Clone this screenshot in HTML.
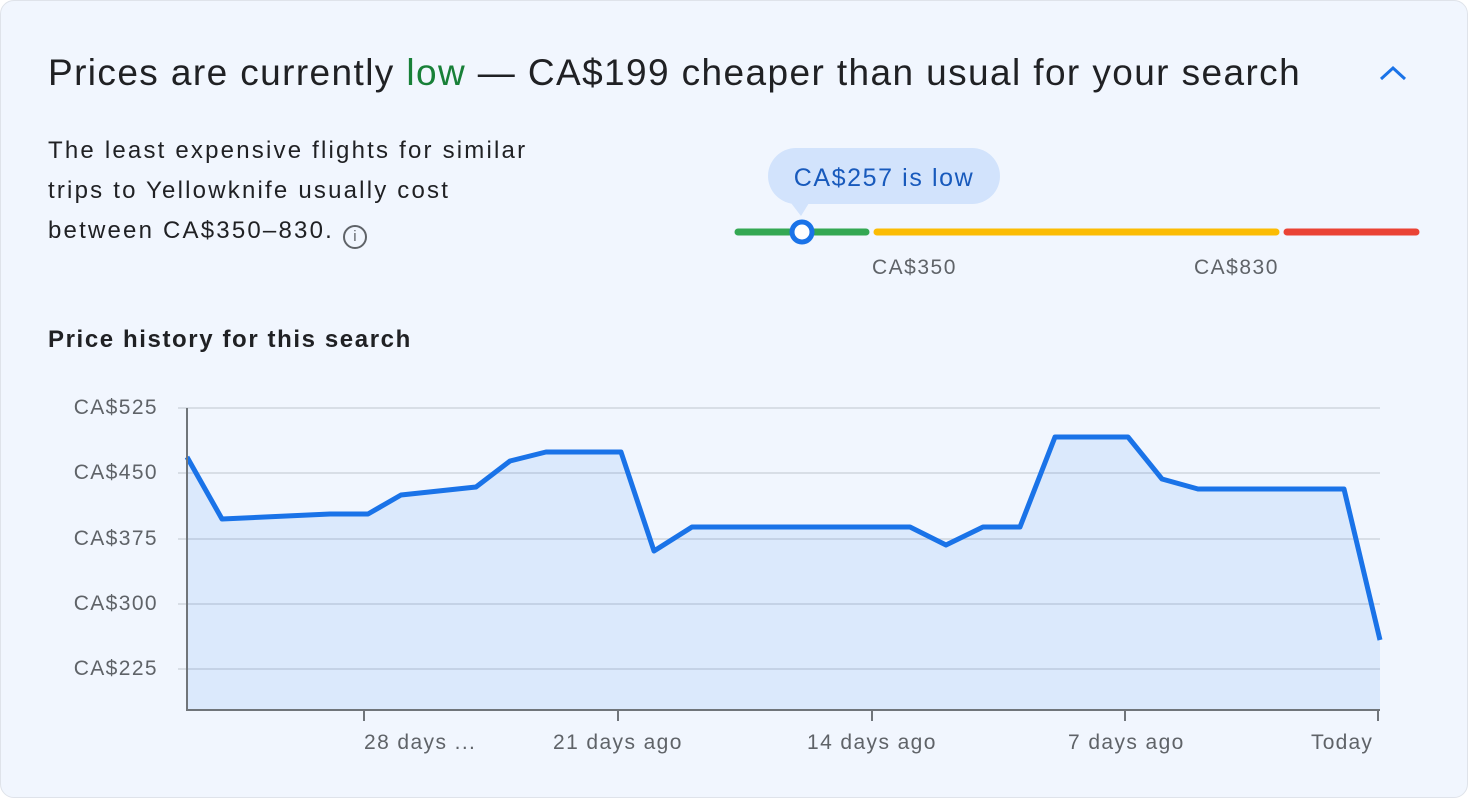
<!DOCTYPE html>
<html><head><style>
body{margin:0;width:1468px;height:798px;background:#fff;font-family:"Liberation Sans",Arial,sans-serif;overflow:hidden}
.card{position:absolute;left:0;top:0;width:1466px;height:796px;border:1px solid #dfe3ea;border-radius:14px;background:#f1f6fe}
.t{position:absolute;white-space:nowrap}
</style></head><body>
<div class="card"></div>
<div class="t" style="left:48px;top:52px;font-size:37px;letter-spacing:1.4px;color:#202124">Prices are currently <span style="color:#188038">low</span> — CA$199 cheaper than usual for your search</div>
<svg style="position:absolute;left:1378px;top:64px" width="30" height="20"><path d="M3 15 L15 4 L27 15" stroke="#1a73e8" stroke-width="3" fill="none"/></svg>
<div class="t" style="left:48px;top:131px;font-size:24px;letter-spacing:2.2px;line-height:40px;color:#202124">The least expensive flights for similar<br>trips to Yellowknife usually cost<br>between CA$350–830. <span style="display:inline-block;border:2px solid #5f6368;border-radius:50%;font-size:15px;line-height:20px;text-align:center;vertical-align:-3px;color:#5f6368;box-sizing:border-box;width:24px;height:24px;letter-spacing:0">i</span></div>
<div class="t" style="left:768px;top:148px;width:232px;height:56px;border-radius:28px;background:#d2e3fc;color:#185abc;font-size:25px;letter-spacing:1.6px;line-height:60px;text-align:center">CA$257 is low</div>
<svg style="position:absolute;left:0;top:0" width="1468" height="798">
<path d="M791 203 L801 216 L809 203Z" fill="#d2e3fc"/>
<line x1="738" y1="232" x2="866" y2="232" stroke="#34a853" stroke-width="7" stroke-linecap="round"/>
<line x1="877" y1="232" x2="1276" y2="232" stroke="#fbbc04" stroke-width="7" stroke-linecap="round"/>
<line x1="1287" y1="232" x2="1416" y2="232" stroke="#ea4335" stroke-width="7" stroke-linecap="round"/>
<circle cx="802" cy="232" r="10" fill="#fff" stroke="#1a73e8" stroke-width="5"/>
<g stroke="#d0d5dd" stroke-width="1.5">
<line x1="178" y1="408" x2="1380" y2="408"/><line x1="178" y1="473" x2="1380" y2="473"/><line x1="178" y1="539" x2="1380" y2="539"/><line x1="178" y1="604" x2="1380" y2="604"/><line x1="178" y1="669" x2="1380" y2="669"/></g>
<path d="M187 457 L222 519 L330 514 L368 514 L401 495 L476 487 L510 461 L546 452 L621 452 L654 551 L692 527 L910 527 L946 545 L983 527 L1020 527 L1055 437 L1128 437 L1162 479 L1198 489 L1344 489 L1380 640 L1380 710 L187 710Z" fill="#1a73e8" fill-opacity="0.1"/>
<path d="M187 457 L222 519 L330 514 L368 514 L401 495 L476 487 L510 461 L546 452 L621 452 L654 551 L692 527 L910 527 L946 545 L983 527 L1020 527 L1055 437 L1128 437 L1162 479 L1198 489 L1344 489 L1380 640" fill="none" stroke="#1a73e8" stroke-width="5" stroke-linejoin="round"/>
<g stroke="#70757a" stroke-width="2"><line x1="187" y1="408" x2="187" y2="711"/><line x1="186" y1="710" x2="1380" y2="710"/>
<line x1="364" y1="710" x2="364" y2="721"/><line x1="618" y1="710" x2="618" y2="721"/><line x1="872" y1="710" x2="872" y2="721"/><line x1="1125" y1="710" x2="1125" y2="721"/><line x1="1378" y1="710" x2="1378" y2="721"/></g>
</svg>
<div class="t" style="left:872px;top:256px;font-size:21px;letter-spacing:1.5px;color:#5f6368">CA$350</div>
<div class="t" style="left:1194px;top:256px;font-size:21px;letter-spacing:1.5px;color:#5f6368">CA$830</div>
<div class="t" style="left:48px;top:326px;color:#202124;font-weight:bold;font-size:24px;letter-spacing:1.6px">Price history for this search</div>
<div style="position:absolute;left:40px;top:396px;width:118px;font-size:21px;letter-spacing:1.4px;color:#5f6368;text-align:right;line-height:24px">
<div style="position:absolute;right:0;top:0">CA$525</div><div style="position:absolute;right:0;top:65px">CA$450</div><div style="position:absolute;right:0;top:131px">CA$375</div><div style="position:absolute;right:0;top:196px">CA$300</div><div style="position:absolute;right:0;top:261px">CA$225</div></div>
<div class="t" style="left:364px;top:731px;font-size:21px;letter-spacing:1.4px;color:#5f6368">28 days ...</div>
<div class="t" style="left:553px;top:731px;font-size:21px;letter-spacing:1.4px;color:#5f6368">21 days ago</div>
<div class="t" style="left:807px;top:731px;font-size:21px;letter-spacing:1.4px;color:#5f6368">14 days ago</div>
<div class="t" style="left:1068px;top:731px;font-size:21px;letter-spacing:1.4px;color:#5f6368">7 days ago</div>
<div class="t" style="left:1311px;top:731px;font-size:21px;letter-spacing:1.2px;color:#5f6368">Today</div>
</body></html>
